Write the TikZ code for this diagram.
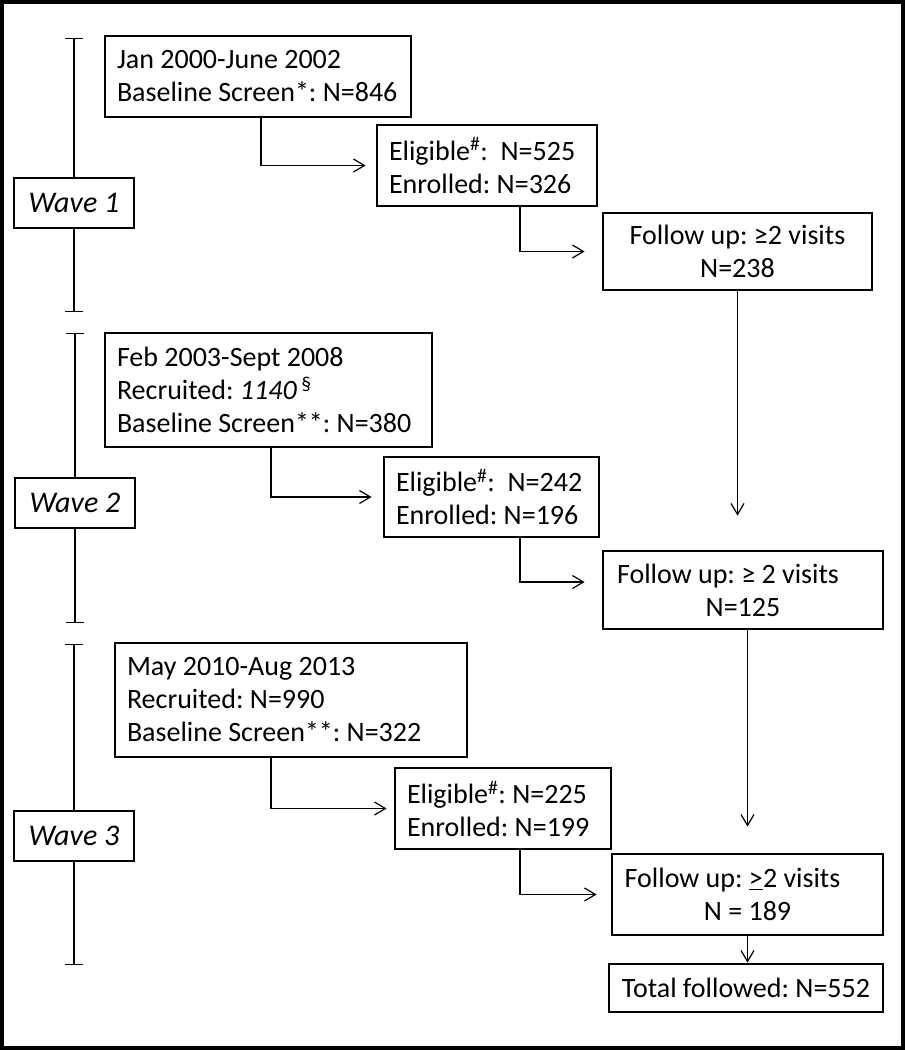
\documentclass[tikz,border=0pt]{standalone}
\usepackage{fontspec}
\setmainfont{Carlito}
\usepackage{tikz}
\usetikzlibrary{arrows.meta}

\begin{document}
\begin{tikzpicture}[x=1pt,y=-1pt]
 \tikzset{
  box/.style={draw,line width=2.8pt,inner xsep=12pt,inner ysep=0pt,
   font=\fontsize{28}{33}\selectfont\frenchspacing},
  lbox/.style={box,align=flush left},
  cbox/.style={box,align=center},
  wave/.style={draw,line width=1.2pt,minimum width=120pt,minimum height=50pt,
   font=\fontsize{30}{33}\selectfont\itshape},
  arr/.style={line width=1.2pt,-{Straight Barb[length=11pt,width=13pt]}},
  bar/.style={line width=1.2pt}}
 \useasboundingbox (0,0) rectangle (905,1050);
 \draw[line width=4pt] (2,2) rectangle (903,1048);
 \node[wave](w1) at (74,203){Wave 1};
 \node[wave](w2) at (75,503){Wave 2};
 \node[wave](w3) at (74,836){Wave 3};
 \coordinate(w1t) at (74,38); \coordinate(w1b) at (74,312);
 \coordinate(w2t) at (75,333); \coordinate(w2b) at (75,623);
 \coordinate(w3t) at (74,644); \coordinate(w3b) at (74,965);
 \draw[bar,{Bar[width=18pt]}-](w1t)--(w1.north);
 \draw[bar,-{Bar[width=18pt]}](w1.south)--(w1b);
 \draw[bar,{Bar[width=18pt]}-](w2t)--(w2.north);
 \draw[bar,-{Bar[width=18pt]}](w2.south)--(w2b);
 \draw[bar,{Bar[width=18pt]}-](w3t)--(w3.north);
 \draw[bar,-{Bar[width=18pt]}](w3.south)--(w3b);
 \node[lbox,text width=282pt,minimum height=81pt](a1) at (258,76.5){Jan 2000-June 2002\\Baseline Screen*: N=846};
 \node[lbox,text width=196pt,minimum height=81pt](b1) at (487,165.5){Eligible\textsuperscript{\#}:~ N=525\\Enrolled: N=326};
 \node[cbox,minimum width=269pt,minimum height=77pt](c1) at (737.5,251.5){Follow up: ≥2 visits\\N=238};
 \node[lbox,text width=303pt,minimum height=114pt](a2) at (268.5,390){Feb 2003-Sept 2008\\Recruited: \textit{1140}\,\textsuperscript{\S}\\Baseline Screen**: N=380};
 \node[lbox,text width=191pt,minimum height=80pt](b2) at (491.5,497){Eligible\textsuperscript{\#}:~ N=242\\Enrolled: N=196};
 \node[cbox,minimum width=280pt,minimum height=78pt](c2) at (743,590){Follow up: ≥ 2 visits\hspace*{30pt}\\N=125};
 \node[lbox,text width=328pt,minimum height=114pt](a3) at (291,700){May 2010-Aug 2013\\Recruited: N=990\\Baseline Screen**: N=322};
 \node[lbox,text width=192pt,minimum height=81pt](b3) at (503,808.5){Eligible\textsuperscript{\#}: N=225\\Enrolled: N=199};
 \node[cbox,minimum width=271pt,minimum height=81pt](c3) at (747.5,894.5){Follow up: \underline{>}2 visits\hspace*{30pt}\\N = 189};
 \node[cbox,minimum width=274pt,minimum height=48pt](t) at (746,988){Total followed: N=552};
 \draw[arr,shorten >=10pt]([xshift=3pt]a1.south) |- (b1.west);
 \draw[arr,shorten >=17pt]([xshift=33pt]b1.south) |- (c1.west);
 \draw[arr,shorten >=34pt](c1.south) -- (c1.south |- c2.north);
 \draw[arr,shorten >=11pt]([xshift=2.5pt]a2.south) |- (b2.west);
 \draw[arr,shorten >=17pt]([xshift=28.5pt]b2.south) |- ([yshift=8pt]c2.west);
 \draw[arr,shorten >=26pt](c2.south -| c3.north) -- (c3.north);
 \draw[arr,shorten >=7pt]([xshift=-20pt]a3.south) |- (b3.west);
 \draw[arr,shorten >=14pt]([xshift=17pt]b3.south) |- (c3.west);
 \draw[arr](c3.south) -- (c3.south |- t.north);
\end{tikzpicture}
\end{document}
